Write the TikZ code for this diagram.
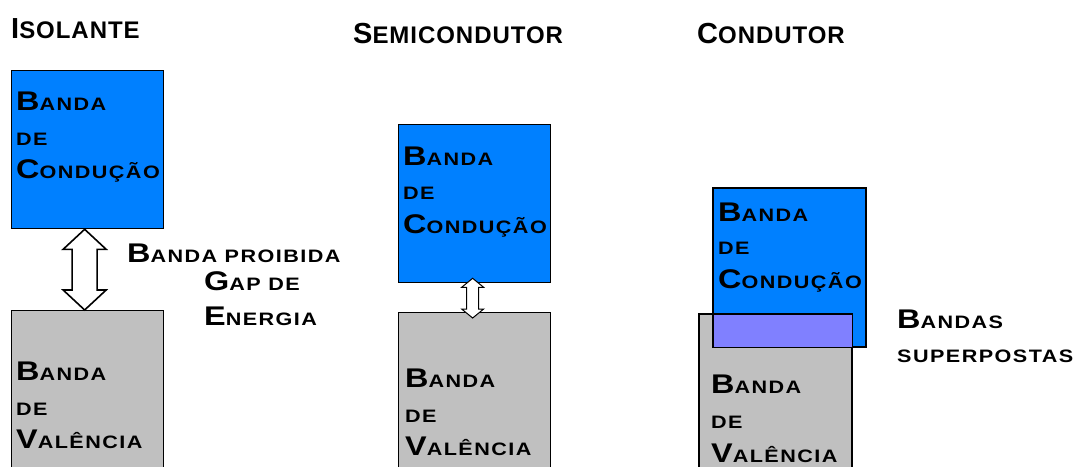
\documentclass[tikz,border=0pt]{standalone}
\usepackage{fontspec}
\usetikzlibrary{calc}
\newfontfamily\bodyfnt[LetterSpace=8, FakeStretch=1.2]{Liberation Sans Bold}
\newfontfamily\titlefnt[LetterSpace=4]{Liberation Sans Bold}
\newcommand\Cap[1]{{\fontsize{27}{27}\selectfont #1}}
\newcommand\TCap[1]{{\fontsize{29}{29}\selectfont #1}}
\definecolor{cblue}{RGB}{0,128,255}
\definecolor{vgray}{RGB}{192,192,192}
\definecolor{ovl}{RGB}{128,128,255}
\tikzset{
  bandbox/.style={draw=black, line width=1.3pt, anchor=north west, inner sep=0pt, minimum width=#1},
  cbox/.style={bandbox=152pt, fill=cblue, minimum height=158pt},
  vbox/.style={bandbox=152pt, fill=vgray, minimum height=170pt},
  lbl/.style={anchor=base west, inner sep=0pt, font=\bodyfnt\fontsize{18}{18}\selectfont},
  ttl/.style={anchor=base west, inner sep=0pt, font=\titlefnt\fontsize{24}{24}\selectfont},
}
% hollow double arrow between two points
\newcommand\hollowarrow[6]{% #1 top, #2 bottom, #3 head half width, #4 shaft half width, #5 head length, #6 line width
  \draw[fill=white, line width=#6, line join=miter]
    (#1) -- ++(-#3,#5) -- ++(#3-#4,0) -- ($(#2)+(-#4,-#5)$) -- ++(#4-#3,0) -- (#2)
    -- ++(#3,-#5) -- ++(#4-#3,0) -- ($(#1)+(#4,#5)$) -- ++(#3-#4,0) -- cycle;}
\begin{document}
\begin{tikzpicture}[x=1pt, y=-1pt]
\useasboundingbox (0,0) rectangle (1092,466);
\clip (0,0) rectangle (1092,466);
\fill[white] (0,0) rectangle (1092,466);

% titles
\node[ttl] (t1) at (11,38) {\TCap{I}SOLANTE};
\node[ttl] (t2) at (353,43) {\TCap{S}EMICONDUTOR};
\node[ttl] (t3) at (697,43) {\TCap{C}ONDUTOR};

% Isolante
\node[cbox] (icb) at (11,70) {};
\node[vbox] (ivb) at (11,310) {};
\node[lbl] (icb1) at (16,110) {\Cap{B}ANDA};
\node[lbl] (icb2) at (16,145) {DE};
\node[lbl] (icb3) at (16,178) {\Cap{C}ONDUÇÃO};
\node[lbl] (ivb1) at (16,380) {\Cap{B}ANDA};
\node[lbl] (ivb2) at (16,415) {DE};
\node[lbl] (ivb3) at (16,448) {\Cap{V}ALÊNCIA};
\coordinate (ia1) at ($(icb.south)+(-3,0)$);
\coordinate (ia2) at ($(ivb.north)+(-3,0)$);
\hollowarrow{ia1}{ia2}{21.5}{12.5}{20}{1.6pt}
\node[lbl] (gap1) at (127,262) {\Cap{B}ANDA PROIBIDA};
\node[lbl] (gap2) at (204,290) {\Cap{G}AP DE};
\node[lbl] (gap3) at (204,325) {\Cap{E}NERGIA};

% Semicondutor
\node[cbox] (scb) at (398,124) {};
\node[vbox] (svb) at (398,312) {};
\node[lbl] (scb1) at (403,165) {\Cap{B}ANDA};
\node[lbl] (scb2) at (403,199) {DE};
\node[lbl] (scb3) at (403,233) {\Cap{C}ONDUÇÃO};
\node[lbl] (svb1) at (405,387) {\Cap{B}ANDA};
\node[lbl] (svb2) at (405,422) {DE};
\node[lbl] (svb3) at (405,455) {\Cap{V}ALÊNCIA};
\coordinate (sa1) at ($(scb.south)+(-2,-5)$);
\coordinate (sa2) at ($(svb.north)+(-2,6)$);
\hollowarrow{sa1}{sa2}{11}{6}{9}{1pt}

% Condutor
\node[vbox] (cvb) at (699,314) {};
\node[cbox] (ccb) at (713,188) {};
\fill[ovl] (ccb.west |- cvb.north) rectangle (cvb.east |- ccb.south);
\draw[line width=1.3pt] (cvb.south west) -- (cvb.north west) -- (cvb.north east) -- (cvb.south east);
\draw[line width=1.3pt] (ccb.north west) rectangle (ccb.south east);
\node[lbl] (ccb1) at (718,221) {\Cap{B}ANDA};
\node[lbl] (ccb2) at (718,254) {DE};
\node[lbl] (ccb3) at (718,288) {\Cap{C}ONDUÇÃO};
\node[lbl] (cvb1) at (711,393) {\Cap{B}ANDA};
\node[lbl] (cvb2) at (711,428) {DE};
\node[lbl] (cvb3) at (711,462) {\Cap{V}ALÊNCIA};
\node[lbl] (sp1) at (897,328) {\Cap{B}ANDAS};
\node[lbl] (sp2) at (897,362) {SUPERPOSTAS};
\end{tikzpicture}
\end{document}
